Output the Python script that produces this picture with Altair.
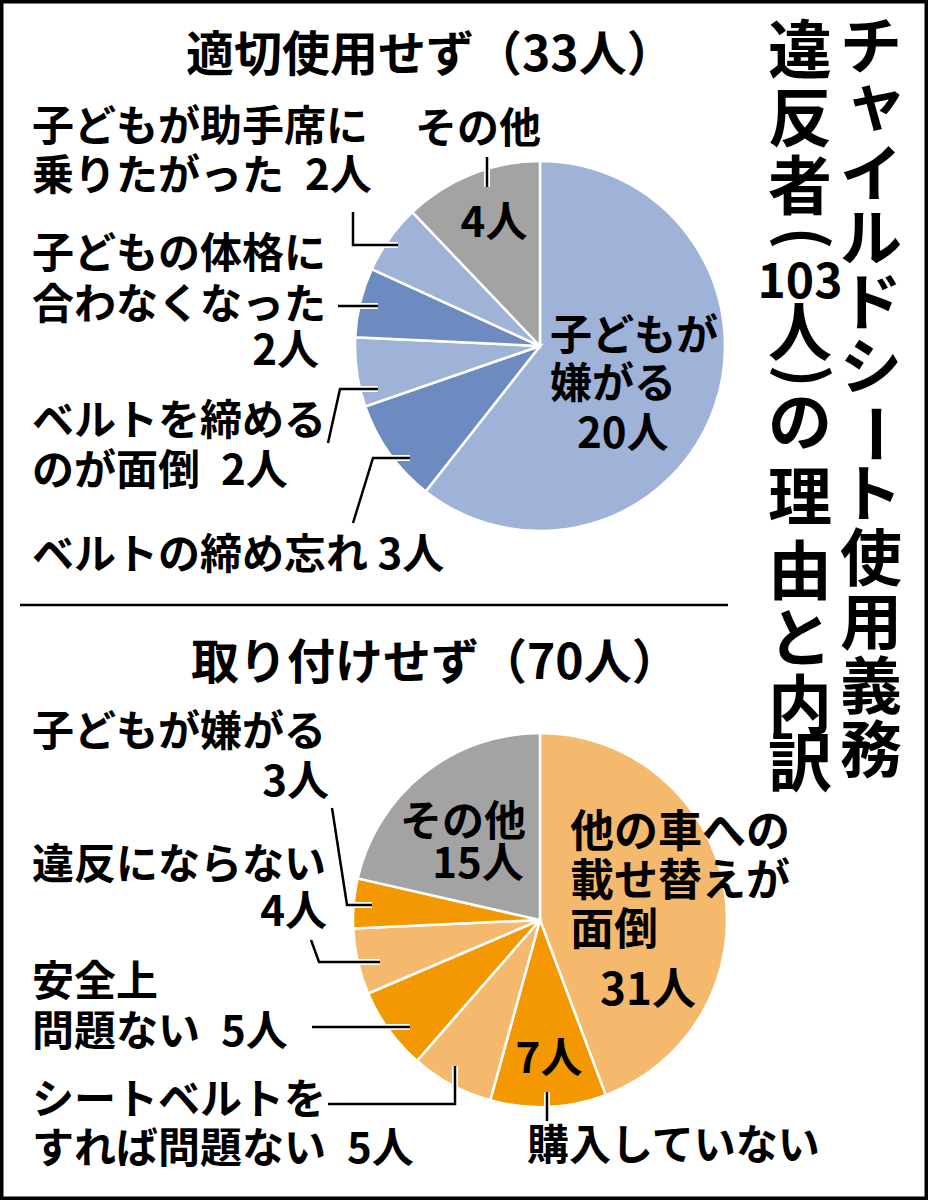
import altair as alt
import pandas as pd

FONT = "Noto Sans CJK JP"

# ---------------- data ----------------
top_reasons = ["子どもが嫌がる", "ベルトの締め忘れ", "ベルトを締めるのが面倒",
               "子どもの体格に合わなくなった", "子どもが助手席に乗りたがった", "その他"]
top_counts = [20, 3, 2, 2, 2, 4]
top_colors = ["#9fb3d9", "#6e8bc1", "#9fb3d9", "#6e8bc1", "#9fb3d9", "#a3a3a3"]

bot_reasons = ["他の車への載せ替えが面倒", "購入していない", "シートベルトをすれば問題ない",
               "安全上問題ない", "違反にならない", "子どもが嫌がる", "その他"]
bot_counts = [31, 7, 5, 5, 4, 3, 15]
bot_colors = ["#f5b96e", "#f39800", "#f5b96e", "#f39800", "#f5b96e", "#f39800", "#a3a3a3"]

top_title = "適切使用せず（33人）"
bot_title = "取り付けせず（70人）"

# labels (text) and their layout positions
top_left_text = ["子どもが助手席に", "乗りたがった\u20022人", "子どもの体格に", "合わなくなった",
                 "ベルトを締める", "のが面倒\u20022人", "ベルトの締め忘れ 3人"]
top_left_x = [32, 32, 32, 32, 32, 32, 32]
top_left_y = [128, 177, 255, 306, 422, 472, 556]
top_right_text = ["2人"]
top_right_x = [319]
top_right_y = [352]
top_center_text = ["その他", "4人"]
top_center_x = [478, 494]
top_center_y = [130, 224]
top_in_text = ["子どもが", "嫌がる", "20人"]
top_in_x = [550, 550, 577]
top_in_y = [337, 385, 435]

bot_left_text = ["子どもが嫌がる", "違反にならない", "安全上", "問題ない\u20025人",
                 "シートベルトを", "すれば問題ない\u20025人", "購入していない"]
bot_left_x = [32, 32, 32, 32, 32, 32, 527]
bot_left_y = [733, 866, 983, 1033, 1101, 1150, 1147]
bot_right_text = ["3人", "4人"]
bot_right_x = [329, 327]
bot_right_y = [783, 913]
bot_center_text = ["その他", "15人", "7人"]
bot_center_x = [463, 478, 549]
bot_center_y = [823, 865, 1060]
bot_in_text = ["他の車への", "載せ替えが", "面倒", "31人"]
bot_in_x = [570, 570, 570, 600]
bot_in_y = [834, 883, 932, 992]

# leader lines (segment id, points)
lead_seg = ["a", "a", "a", "b", "b", "c", "c", "c", "d", "d", "d", "e", "e",
            "f", "f", "f", "g", "g", "g", "h", "h", "i", "i", "i", "j", "j"]
lead_x = [353, 353, 398, 338, 378, 328, 340, 378, 353, 373, 410, 487, 487,
          332, 347, 372, 311, 319, 380, 312, 410, 328, 455, 455, 547, 547]
lead_y = [212, 245, 245, 306, 306, 443, 389, 389, 523, 458, 458, 157, 187,
          808, 905, 905, 940, 962, 962, 1027, 1027, 1104, 1104, 1066, 1092, 1121]

# vertical headline
v1_chars = ["チ", "ャ", "イ", "ル", "ド", "シ", "ー", "ト", "使", "用", "義", "務"]
v2_chars = ["違", "反", "者", "(", "103", "人", ")", "の", "理", "由", "と", "内", "訳"]
v2_y = [54, 122, 190, 238, 284, 337, 376, 426, 501, 575, 642, 709, 767]

# ---------------- chart ----------------
def pie(reasons, counts, colors, cx, cy, r):
    df = pd.DataFrame({"reason": reasons, "count": counts, "ord": list(range(len(reasons)))})
    return alt.Chart(df).mark_arc(radius=r, stroke="white", strokeWidth=2.5).encode(
        theta=alt.Theta("count:Q", stack=True),
        order=alt.Order("ord:Q"),
        color=alt.Color("reason:N", scale=alt.Scale(domain=reasons, range=colors), legend=None),
        x=alt.value(cx), y=alt.value(cy),
    )


def txt(texts, xs, ys, size, align="left", font=FONT):
    df = pd.DataFrame({"t": texts, "x": xs, "y": ys})
    return alt.Chart(df).mark_text(
        align=align, baseline="middle", font=font, fontSize=size, fontWeight="bold", color="black"
    ).encode(
        text="t:N",
        x=alt.X("x:Q", scale=None, axis=None),
        y=alt.Y("y:Q", scale=None, axis=None),
    )


lead_df = pd.DataFrame({"seg": lead_seg, "x": lead_x, "y": lead_y,
                        "i": list(range(len(lead_seg)))})
leads_white = alt.Chart(lead_df).mark_line(color="white", strokeWidth=6).encode(
    x=alt.X("x:Q", scale=None, axis=None), y=alt.Y("y:Q", scale=None, axis=None),
    detail="seg:N", order="i:Q")
leads = alt.Chart(lead_df).mark_line(color="black", strokeWidth=2.5).encode(
    x=alt.X("x:Q", scale=None, axis=None), y=alt.Y("y:Q", scale=None, axis=None),
    detail="seg:N", order="i:Q")

v1_df = pd.DataFrame({
    "t": v1_chars,
    "x": [871 + (5 if c in "ャィ" else 0) for c in v1_chars],
    "y": [50 + 64 * i - (8 if c in "ャィ" else 0) for i, c in enumerate(v1_chars)],
    "a": [90 if c == "ー" else 0 for c in v1_chars],
})
v1 = alt.Chart(v1_df).mark_text(align="center", baseline="middle", font=FONT, fontSize=62,
                                fontWeight="bold", color="black").encode(
    text="t:N", x=alt.X("x:Q", scale=None, axis=None), y=alt.Y("y:Q", scale=None, axis=None),
    angle=alt.Angle("a:Q", scale=None))

v2_df = pd.DataFrame({
    "t": v2_chars, "x": [800] * len(v2_chars), "y": v2_y,
    "s": [48 if c == "103" else (60 if c in "()" else 64) for c in v2_chars],
    "a": [90 if c in "()" else 0 for c in v2_chars],
})
v2 = alt.Chart(v2_df).mark_text(align="center", baseline="middle", font=FONT,
                                fontWeight="bold", color="black").encode(
    text="t:N", x=alt.X("x:Q", scale=None, axis=None), y=alt.Y("y:Q", scale=None, axis=None),
    size=alt.Size("s:Q", scale=None), angle=alt.Angle("a:Q", scale=None))

divider = alt.Chart(pd.DataFrame({"a": [0]})).mark_rule(color="black", strokeWidth=2.5).encode(
    x=alt.value(20), x2=alt.value(728), y=alt.value(605))

chart = alt.layer(
    pie(top_reasons, top_counts, top_colors, 540, 346, 185),
    pie(bot_reasons, bot_counts, bot_colors, 540, 920, 187),
    leads_white, leads,
    txt([top_title], [186], [57], 48),
    txt([bot_title], [191], [665], 48),
    txt(top_left_text, top_left_x, top_left_y, 42),
    txt(top_right_text, top_right_x, top_right_y, 42, "right"),
    txt(top_center_text, top_center_x, top_center_y, 42, "center"),
    txt(top_in_text, top_in_x, top_in_y, 42),
    txt(bot_left_text, bot_left_x, bot_left_y, 42),
    txt(bot_right_text, bot_right_x, bot_right_y, 42, "right"),
    txt(bot_center_text, bot_center_x, bot_center_y, 42, "center"),
    txt(bot_in_text, bot_in_x, bot_in_y, 44),
    v1, v2, divider,
).resolve_scale(theta="independent", color="independent").properties(
    width=928, height=1200, autosize=alt.AutoSizeParams(type="none"), padding=0,
    background="white",
).configure_view(stroke="black", strokeWidth=7)

chart.save("out.html", embed_options={"renderer": "svg", "actions": False})
